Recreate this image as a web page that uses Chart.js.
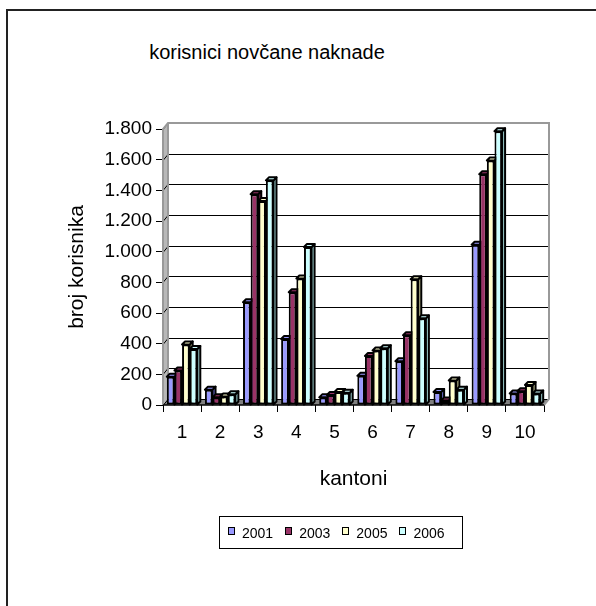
<!DOCTYPE html>
<html>
<head>
<meta charset="utf-8">
<script src="https://cdn.jsdelivr.net/npm/chart.js@4.4.1/dist/chart.umd.min.js"></script>
<style>
  html, body { margin: 0; padding: 0; background: #fff; }
  #wrap { position: relative; width: 596px; height: 606px; overflow: hidden; font-family: "Liberation Sans", Arial, sans-serif; }
  #frame { position: absolute; left: 6px; top: 9px; width: 700px; height: 700px; border-top: 2px solid #222; border-left: 2px solid #222; }
  #title { position: absolute; left: 0; top: 40px; width: 534px; text-align: center; font-size: 20px; line-height: 24px; color: #000; }
  #chart { position: absolute; left: 0; top: 0; }
  #legend { position: absolute; left: 219px; top: 516px; width: 234px; height: 31px; border: 1px solid #000; display: flex; align-items: center; padding-left: 8px; box-sizing: content-box; }
  .item { display: flex; align-items: center; margin-right: 12px; font-size: 14px; color: #000; }
  .sw { width: 5px; height: 6px; border: 1.5px solid #000; margin-right: 7px; margin-top: -3px; }
</style>
</head>
<body>
<div id="wrap">
  <div id="frame"></div>
  <div id="title">korisnici novčane naknade</div>
  <canvas id="chart" width="596" height="606"></canvas>
  <div id="legend"></div>
</div>
<script>
// ---- data ----
const categories = ['1', '2', '3', '4', '5', '6', '7', '8', '9', '10'];
const seriesNames = ['2001', '2003', '2005', '2006'];
const v2001 = [185, 100, 670, 430, 50, 190, 285, 85, 1045, 75];
const v2003 = [225, 50, 1375, 735, 65, 320, 455, 30, 1505, 90];
const v2005 = [395, 55, 1330, 825, 85, 355, 820, 160, 1595, 130];
const v2006 = [365, 70, 1465, 1030, 80, 370, 565, 100, 1785, 75];
const yTicks = [0, 200, 400, 600, 800, 1000, 1200, 1400, 1600, 1800];
const yTitle = 'broj korisnika';
const xTitle = 'kantoni';

const seriesValues = [v2001, v2003, v2005, v2006];
const fillColors = ['#9999FF', '#993366', '#FFFFCC', '#CCFFFF'];
const sideColors = ['#6b6bcc', '#6a2247', '#cccc99', '#99cccc'];

Chart.defaults.font.family = "'Liberation Sans', Arial, sans-serif";
Chart.defaults.color = '#000';

function fmt(v) {
  if (v >= 1000) return Math.floor(v / 1000) + '.' + String(v % 1000).padStart(3, '0');
  return String(v);
}

const DX = 5, DY = 6, BD = 3;

const depthPlugin = {
  id: 'depth',
  beforeDatasetsDraw(chart) {
    const { ctx, chartArea: a, scales: { y } } = chart;
    ctx.save();
    // left wall
    ctx.fillStyle = '#b8b8b8';
    ctx.beginPath();
    ctx.moveTo(a.left, a.top); ctx.lineTo(a.left + DX, a.top - DY);
    ctx.lineTo(a.left + DX, a.bottom - DY); ctx.lineTo(a.left, a.bottom);
    ctx.closePath(); ctx.fill();
    // floor
    ctx.fillStyle = '#808080';
    ctx.beginPath();
    ctx.moveTo(a.left, a.bottom); ctx.lineTo(a.left + DX, a.bottom - DY);
    ctx.lineTo(a.right + DX, a.bottom - DY); ctx.lineTo(a.right, a.bottom);
    ctx.closePath(); ctx.fill();
    // gridlines on back wall
    ctx.strokeStyle = '#000'; ctx.lineWidth = 1;
    yTicks.forEach(v => {
      const py = Math.round(y.getPixelForValue(v)) + 0.5;
      ctx.beginPath();
      ctx.moveTo(a.left, py); ctx.lineTo(a.left + DX, py - DY); ctx.lineTo(a.right + DX, py - DY);
      ctx.stroke();
    });
    // wall edges
    ctx.strokeStyle = '#999'; ctx.lineWidth = 2;
    ctx.beginPath();
    ctx.moveTo(a.left, a.bottom); ctx.lineTo(a.left, a.top); ctx.lineTo(a.left + DX, a.top - DY);
    ctx.lineTo(a.right + DX, a.top - DY); ctx.lineTo(a.right + DX, a.bottom - DY); ctx.lineTo(a.right, a.bottom);
    ctx.stroke();
    ctx.beginPath();
    ctx.moveTo(a.left + DX, a.top - DY); ctx.lineTo(a.left + DX, a.bottom - DY);
    ctx.stroke();
    ctx.strokeStyle = '#000'; ctx.lineWidth = 1.5;
    ctx.beginPath(); ctx.moveTo(a.left, a.bottom); ctx.lineTo(a.right, a.bottom); ctx.stroke();
    // bar sides and caps
    ctx.lineWidth = 2; ctx.strokeStyle = '#000'; ctx.lineJoin = 'round';
    chart.data.datasets.forEach((ds, i) => {
      const meta = chart.getDatasetMeta(i);
      meta.data.forEach(bar => {
        const { x, y: top, base, width } = bar.getProps(['x', 'y', 'base', 'width'], true);
        const l = x - width / 2, r = x + width / 2;
        ctx.fillStyle = sideColors[i];
        ctx.beginPath();
        ctx.moveTo(r, top); ctx.lineTo(r + BD, top - BD); ctx.lineTo(r + BD, base - BD); ctx.lineTo(r, base);
        ctx.closePath(); ctx.fill(); ctx.stroke();
        ctx.fillStyle = fillColors[i];
        ctx.beginPath();
        ctx.moveTo(l, top); ctx.lineTo(l + BD, top - BD); ctx.lineTo(r + BD, top - BD); ctx.lineTo(r, top);
        ctx.closePath(); ctx.fill(); ctx.stroke();
      });
    });
    ctx.restore();
  }
};

new Chart(document.getElementById('chart'), {
  type: 'bar',
  data: {
    labels: categories,
    datasets: seriesNames.map((name, i) => ({
      label: name,
      data: seriesValues[i],
      backgroundColor: fillColors[i],
      borderColor: '#000',
      borderWidth: 2,
      borderSkipped: false,
      categoryPercentage: 0.8,
      barPercentage: 1.0
    }))
  },
  options: {
    responsive: false,
    animation: false,
    devicePixelRatio: 1,
    layout: { padding: { top: 129, left: 0, right: 52, bottom: 0 } },
    plugins: { legend: { display: false }, title: { display: false }, tooltip: { enabled: false } },
    scales: {
      x: {
        offset: true,
        grid: { offset: true, drawOnChartArea: false, drawTicks: true, tickLength: 7, color: '#000' },
        border: { display: false },
        ticks: { padding: 9, font: { size: 19 }, color: '#000', maxRotation: 0, autoSkip: false },
        title: { display: true, text: xTitle, font: { size: 21 }, color: '#000', padding: { top: 4, bottom: 114 } },
        afterFit(scale) { scale.height = 201; }
      },
      y: {
        min: 0, max: 1800,
        afterBuildTicks(scale) { scale.ticks = yTicks.map(v => ({ value: v })); },
        grid: { drawOnChartArea: false, drawTicks: true, tickLength: 7, color: '#000' },
        border: { display: false },
        ticks: { padding: 4, font: { size: 19 }, color: '#000', callback: v => fmt(v) },
        title: { display: true, text: yTitle, font: { size: 21 }, color: '#000', padding: { top: 65, bottom: 4 } },
        afterFit(scale) { scale.width = 163; }
      }
    }
  },
  plugins: [depthPlugin]
});

const legend = document.getElementById('legend');
seriesNames.forEach((name, i) => {
  const it = document.createElement('div');
  it.className = 'item';
  const sw = document.createElement('div');
  sw.className = 'sw';
  sw.style.background = fillColors[i];
  const t = document.createElement('span');
  t.textContent = name;
  it.appendChild(sw); it.appendChild(t);
  legend.appendChild(it);
});
</script>
</body>
</html>
